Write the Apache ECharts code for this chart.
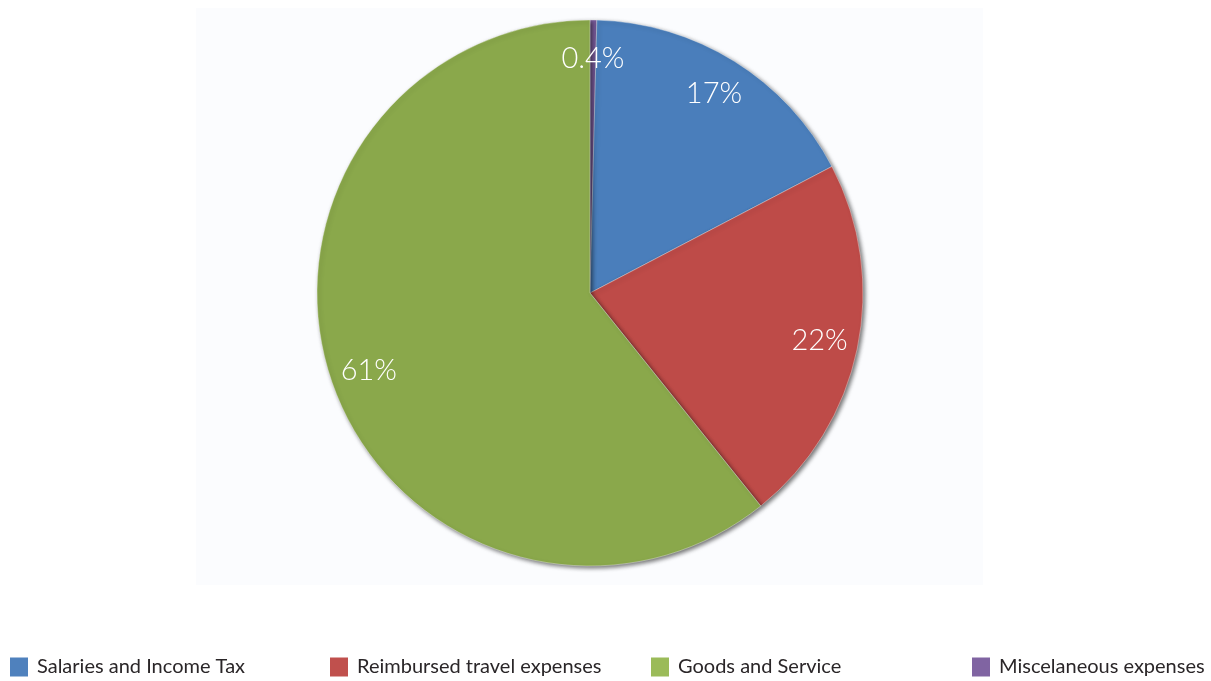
<!DOCTYPE html>
<html>
<head>
<meta charset="utf-8">
<script src="https://cdn.jsdelivr.net/npm/echarts@6/dist/echarts.min.js"></script>
<style>
  html, body { margin: 0; padding: 0; background: #ffffff; }
  #chart { width: 1211px; height: 681px; }
</style>
</head>
<body>
<div id="chart"></div>
<script>
// Expense categories in drawing order (clockwise from 12 o'clock)
const categories = ['Miscelaneous expenses', 'Salaries and Income Tax', 'Reimbursed travel expenses', 'Goods and Service'];
const shares = [0.4, 17, 22, 61];
const valueLabels = ['0.4%', '17%', '22%', '61%'];
const sliceColors = ['#7d5fa0', '#4a7ebb', '#be4b48', '#8aa84b'];
const legendColors = ['#8064a2', '#4f81bd', '#c0504d', '#9bbb59'];
// Legend reading order
const legendOrder = ['Salaries and Income Tax', 'Reimbursed travel expenses', 'Goods and Service', 'Miscelaneous expenses'];

const chart = echarts.init(document.getElementById('chart'), null, { renderer: 'canvas' });

const center = [590, 293];
const radius = 273;

const sliceData = categories.map((name, i) => ({
  name: name,
  value: shares[i],
  itemStyle: { color: sliceColors[i] }
}));

const labelData = categories.map((name, i) => ({
  name: name,
  value: shares[i],
  label: { formatter: valueLabels[i] }
}));

const legendLefts = [10, 330, 651, 972];
const legends = legendOrder.map((name, i) => ({
  left: legendLefts[i],
  top: 657,
  orient: 'horizontal',
  itemWidth: 18,
  itemHeight: 19,
  itemGap: 0,
  padding: 0,
  selectedMode: false,
  icon: 'rect',
  data: [{
    name: name,
    itemStyle: { color: legendColors[categories.indexOf(name)], borderWidth: 0, shadowBlur: 0 }
  }],
  textStyle: {
    fontFamily: 'Lato',
    fontSize: 20,
    color: '#2a2628',
    padding: [0, 0, 0, 4]
  }
}));

chart.setOption({
  animation: false,
  backgroundColor: '#ffffff',
  graphic: [{
    type: 'rect',
    z: -10,
    silent: true,
    shape: { x: 196, y: 8, width: 787, height: 577 },
    style: { fill: '#fbfcfe' }
  }],
  legend: legends,
  series: [
    {
      type: 'pie',
      center: center,
      radius: [0, radius],
      startAngle: 90,
      clockwise: true,
      avoidLabelOverlap: false,
      label: { show: false },
      labelLine: { show: false },
      emphasis: { disabled: true },
      itemStyle: {
        borderColor: 'rgba(255,255,255,0.35)',
        borderWidth: 1,
        shadowColor: 'rgba(0,0,0,0.55)',
        shadowBlur: 4,
        shadowOffsetX: 2,
        shadowOffsetY: 2
      },
      data: sliceData
    },
    {
      // transparent ring that carries the percentage labels near the rim
      type: 'pie',
      center: center,
      radius: [190, radius],
      startAngle: 90,
      clockwise: true,
      silent: true,
      avoidLabelOverlap: false,
      emphasis: { disabled: true },
      itemStyle: { color: 'rgba(0,0,0,0)' },
      labelLine: { show: false },
      label: {
        show: true,
        position: 'inside',
        color: '#ffffff',
        fontFamily: 'Lato',
        fontWeight: 300,
        fontSize: 29
      },
      data: labelData
    }
  ]
});
</script>
</body>
</html>
